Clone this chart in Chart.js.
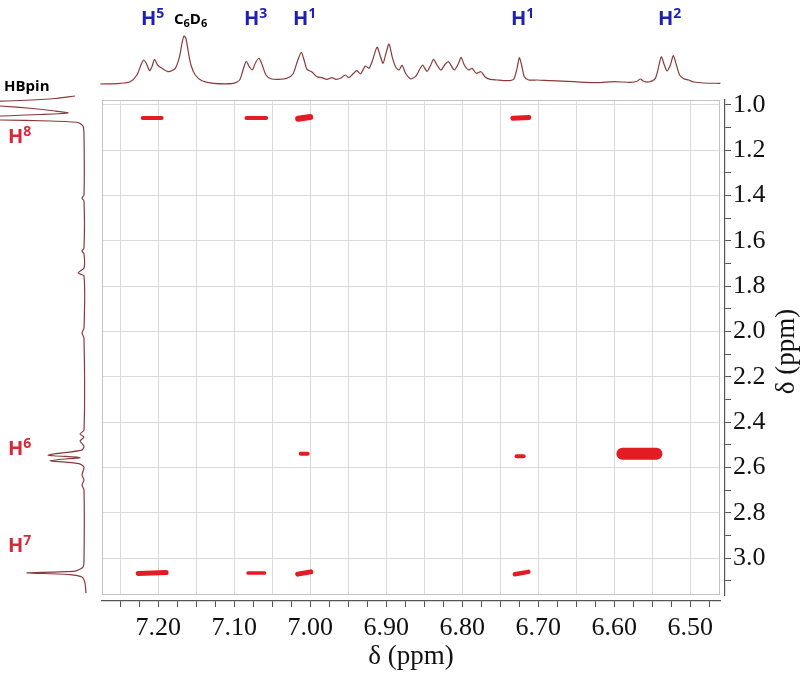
<!DOCTYPE html>
<html><head><meta charset="utf-8">
<script src="https://cdn.jsdelivr.net/npm/chart.js@4/dist/chart.umd.min.js"></script>
<style>
html,body{margin:0;padding:0;background:#fff;}
#wrap{position:relative;width:800px;height:673px;overflow:hidden;background:#fff;}
canvas{position:absolute;}
.lab{position:absolute;font-family:'Open Sans','Liberation Sans',sans-serif;font-weight:700;white-space:nowrap;line-height:1;}
.blue{color:#1f1fb4;font-size:20px;}
.red{color:#d8283a;font-size:20px;}
.sp{font-size:14px;position:relative;top:-7px;}
.sb{font-size:11px;position:relative;top:3px;}
.blk{color:#000;font-size:15px;}
</style></head>
<body><div id="wrap">
<canvas id="topc" width="800" height="95" style="left:0;top:0"></canvas>
<canvas id="leftc" width="100" height="505" style="left:0;top:95px"></canvas>
<canvas id="mainc" width="800" height="673" style="left:0;top:0"></canvas>
<div class="lab blue" style="left:141px;top:8px">H<span class="sp">5</span></div>
<div class="lab blk" style="left:174px;top:11px">C<span class="sb">6</span>D<span class="sb">6</span></div>
<div class="lab blue" style="left:244px;top:8px">H<span class="sp">3</span></div>
<div class="lab blue" style="left:293px;top:8px">H<span class="sp">1</span></div>
<div class="lab blue" style="left:511px;top:8px">H<span class="sp">1</span></div>
<div class="lab blue" style="left:658px;top:8px">H<span class="sp">2</span></div>
<div class="lab blk" style="left:4px;top:78px;font-size:15px">HBpin</div>
<div class="lab red" style="left:8px;top:126px">H<span class="sp">8</span></div>
<div class="lab red" style="left:8px;top:438px">H<span class="sp">6</span></div>
<div class="lab red" style="left:8px;top:535px">H<span class="sp">7</span></div>
</div>
<script>
// ---------------- data ----------------
const xTickLabels = ['7.20','7.10','7.00','6.90','6.80','6.70','6.60','6.50'];
const yTickLabels = ['1.0','1.2','1.4','1.6','1.8','2.0','2.2','2.4','2.6','2.8','3.0'];

// 1D projection on top (F2): chemical shift (ppm) and intensity (a.u.)
const topTraceShift = [7.2763,7.2500,7.2368,7.2280,7.2228,7.2193,7.2158,7.2114,7.2083,7.2049,7.2009,7.1951,7.1864,7.1776,7.1720,7.1688,7.1662,7.1636,7.1605,7.1570,7.1513,7.1425,7.1272,7.1009,7.0930,7.0878,7.0842,7.0807,7.0763,7.0720,7.0675,7.0632,7.0583,7.0518,7.0417,7.0307,7.0228,7.0167,7.0118,7.0079,7.0044,6.9978,6.9912,6.9846,6.9780,6.9714,6.9662,6.9596,6.9539,6.9491,6.9430,6.9386,6.9338,6.9276,6.9228,6.9184,6.9122,6.9079,6.9043,6.9004,6.8964,6.8921,6.8878,6.8833,6.8793,6.8746,6.8684,6.8618,6.8553,6.8522,6.8464,6.8421,6.8378,6.8333,6.8280,6.8224,6.8180,6.8105,6.8049,6.8017,6.7974,6.7917,6.7872,6.7816,6.7754,6.7697,6.7632,6.7543,6.7412,6.7325,6.7280,6.7250,6.7220,6.7184,6.7128,6.7017,6.6842,6.6536,6.6228,6.6009,6.5789,6.5701,6.5658,6.5614,6.5549,6.5461,6.5417,6.5382,6.5342,6.5307,6.5263,6.5224,6.5184,6.5141,6.5088,6.5022,6.4957,6.4825,6.4605];
const topTraceIntensity = [0,0.7,2.3,9,19,24,20.7,13.3,17.3,24.7,19,15.7,12.3,15.7,27.3,40.7,48,45.7,32.3,19,9,3.3,0.7,0.7,4,15.7,22.7,18,14,21.3,25.7,19,9,5.3,4.7,5.7,10,23.3,31.7,23.3,14.7,12,7.3,6.3,4.7,6.3,4.7,6,9,6.3,10.7,13.3,10,18,15.7,23,36.7,28,20.7,30.7,40,26.7,17.3,14,18.7,10.7,5.3,7.3,15.7,19,12.7,18,24.7,19,14,20,22.3,14,20.7,26.7,19,14,15.7,10.7,12.3,6.7,4.7,4,3.3,4.7,15.7,26.3,19,7.3,4,4,3.3,2.3,1.3,2.3,1.7,2.7,5,2.7,2,5.7,17.3,27.3,19,13,19,28.3,19,9,5.3,4,2,1,0.7];

// 1D projection on the left (F1): chemical shift (ppm) and intensity (a.u.)
const leftTraceShift = [0.9603,0.9713,0.9801,0.9912,1.0044,1.0155,1.0265,1.0353,1.0419,1.0486,1.0574,1.0662,1.0706,1.0773,1.0927,1.1325,1.3974,1.4106,1.4238,1.6313,1.6446,1.6578,1.7196,1.7417,1.7550,1.9845,2.0066,2.0287,2.4349,2.4525,2.4658,2.4834,2.5055,2.5232,2.5453,2.5563,2.5695,2.5828,2.5982,2.6336,2.6556,2.6777,2.6998,3.0088,3.0397,3.0574,3.0649,3.0728,3.0839,3.1104,3.1545];
const leftTraceIntensity = [9,29,64,124,84,51,29,16,44,84,234,84,34,6,1,0,0,2,0,0,2,0,0,6,0,0,2,0,0,4,0,4,0,2,36,4,34,5,0,2,0,2,0,0,1,9,57,14,2,-1,-2];

// 2D cross peaks: centre F2, centre F1, half width along F2 (ppm), F1 drift across the peak (ppm)
const peakF2 = [7.208,7.071,7.008,6.723,7.008,6.724,6.567,7.208,7.071,7.008,6.722];
const peakF1 = [1.057,1.057,1.057,1.057,2.540,2.551,2.540,3.066,3.066,3.066,3.066];
const peakHalfWidthF2 = [0.0125,0.013,0.008,0.0105,0.0046,0.0046,0.0224,0.0184,0.0109,0.0086,0.0089];
const peakDriftF1 = [0,0,0.008,0.004,0,0,0,0.004,0,0.01,0.01];
// style: stroke thickness of each contour (px)
const peakThickness = [4,4,6,5,4,4,12,5,3.5,5,4.5];

// ---------------- axes ranges ----------------
const X_MIN = 6.461, X_MAX = 7.274;
const Y_MIN = 0.978, Y_MAX = 3.163;
const PX_PER_PPM_Y = 495 / (Y_MAX - Y_MIN);

Chart.defaults.font.family = "'Liberation Serif','Times New Roman',serif";
Chart.defaults.color = '#111';

function stepTicks(lo, hi, step) {
  const out = [];
  const n = Math.round((hi - lo) / step);
  for (let i = 0; i <= n; i++) out.push({value: Math.round((lo + i * step) * 10000) / 10000});
  return out;
}

const common = {responsive:false, animation:false, events:[], plugins:{legend:{display:false}, tooltip:{enabled:false}}};

// ---------- top projection ----------
new Chart(document.getElementById('topc'), {
  type:'scatter',
  data:{datasets:[{
    data: topTraceShift.map((s,i)=>({x:s, y:topTraceIntensity[i]})),
    showLine:true, borderColor:'#8a3a3a', borderWidth:1.2, pointRadius:0, tension:0.25, clip:4
  }]},
  options:Object.assign({}, common, {
    layout:{padding:{left:102,right:80,top:28,bottom:9}},
    scales:{
      x:{display:false, reverse:true, min:X_MIN, max:X_MAX},
      y:{display:false, min:-2, max:56}
    }
  })
});

// ---------- left projection ----------
new Chart(document.getElementById('leftc'), {
  type:'scatter',
  data:{datasets:[{
    data: leftTraceShift.map((s,i)=>({x:leftTraceIntensity[i], y:s})),
    showLine:true, borderColor:'#8a3a3a', borderWidth:1.2, pointRadius:0, tension:0.2
  }]},
  options:Object.assign({}, common, {
    layout:{padding:{left:0,right:10,top:0,bottom:0}},
    scales:{
      x:{display:false, reverse:true, min:-6, max:84},
      y:{display:false, reverse:true, min:Y_MIN - 5/PX_PER_PPM_Y, max:Y_MAX + 5/PX_PER_PPM_Y}
    }
  })
});

// ---------- main 2D map ----------
const boxPlugin = {
  id:'box',
  beforeDatasetsDraw(chart){
    const a = chart.chartArea, ctx = chart.ctx;
    ctx.save();
    ctx.strokeStyle = '#c4c4c4'; ctx.lineWidth = 1;
    ctx.strokeRect(Math.round(a.left)+0.5, Math.round(a.top)+0.5, Math.round(a.right-a.left)-1, Math.round(a.bottom-a.top)-1);
    ctx.restore();
  },
  afterDraw(chart){
    const ctx = chart.ctx, s = chart.scales.yAxis;
    ctx.save();
    ctx.translate(787, (s.top + s.bottom)/2 + 4);
    ctx.rotate(-Math.PI/2);
    ctx.font = "27px 'Liberation Serif'";
    ctx.textAlign = 'center'; ctx.textBaseline = 'middle'; ctx.fillStyle = '#111';
    ctx.fillText('δ (ppm)', 0, 0);
    ctx.restore();
  }
};

new Chart(document.getElementById('mainc'), {
  type:'scatter',
  data:{datasets: peakF2.map((c,i)=>({
    data:[{x:c + peakHalfWidthF2[i], y:peakF1[i] + peakDriftF1[i]/2},
          {x:c - peakHalfWidthF2[i], y:peakF1[i] - peakDriftF1[i]/2}],
    showLine:true, borderColor:'#e31b23', borderWidth:peakThickness[i],
    borderCapStyle:'round', pointRadius:0, xAxisID:'x', yAxisID:'y'
  }))},
  options:Object.assign({}, common, {
    layout:{padding:{left:102,top:100,right:0,bottom:0}},
    scales:{
      x:{type:'linear', position:'bottom', weight:0, reverse:true, min:X_MIN, max:X_MAX,
         afterBuildTicks(s){ s.ticks = stepTicks(6.50, 7.25, 0.05); },
         afterFit(s){ s.height = 6; },
         ticks:{display:false}, grid:{color:'#dadada', lineWidth:1, drawTicks:false}, border:{display:false}},
      xAxis:{type:'linear', position:'bottom', weight:1, reverse:true, min:X_MIN, max:X_MAX,
         afterBuildTicks(s){ s.ticks = stepTicks(6.475, 7.25, 0.025); },
         afterFit(s){ s.height = 72; },
         grid:{drawOnChartArea:false, tickLength:6, color:'#555', tickWidth:1},
         border:{display:true, color:'#555', width:1.2},
         ticks:{autoSkip:false, maxRotation:0, minRotation:0, padding:6, font:{size:26}, color:'#111',
           callback:(v)=> xTickLabels.includes(Number(v).toFixed(2)) ? Number(v).toFixed(2) : ''},
         title:{display:true, text:'δ (ppm)', font:{size:27}, color:'#111', padding:{top:0,bottom:0}}},
      y:{type:'linear', position:'right', weight:0, reverse:true, min:Y_MIN, max:Y_MAX,
         afterBuildTicks(s){ s.ticks = yTickLabels.map(t=>({value:Number(t)})); },
         afterFit(s){ s.width = 5; },
         ticks:{display:false}, grid:{color:'#dadada', lineWidth:1, drawTicks:false}, border:{display:false}},
      yAxis:{type:'linear', position:'right', weight:1, reverse:true, min:Y_MIN, max:Y_MAX,
         afterBuildTicks(s){ s.ticks = stepTicks(1.0, 3.1, 0.1); },
         afterFit(s){ s.width = 75; },
         grid:{drawOnChartArea:false, tickLength:6, color:'#555', tickWidth:1},
         border:{display:true, color:'#555', width:1.2},
         ticks:{autoSkip:false, padding:2, font:{size:26}, color:'#111',
           callback:(v)=> yTickLabels.includes(Number(v).toFixed(1)) && Math.abs(v*10 - Math.round(v*10))<1e-6 && Math.round(v*10)%2===0 ? Number(v).toFixed(1) : ''}}
    }
  }),
  plugins:[boxPlugin]
});
</script>
</body></html>
